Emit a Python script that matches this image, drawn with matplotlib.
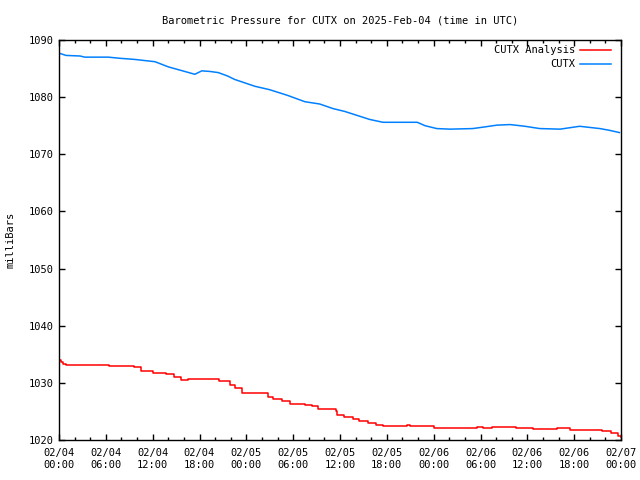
import matplotlib
matplotlib.use("Agg")
import matplotlib.pyplot as plt
from matplotlib.ticker import MultipleLocator

# hours since 2025-02-04 00:00 UTC
red_hours = [0.0, 0.26, 0.5, 0.9, 6.3, 6.4, 9.5, 9.6, 10.4, 10.5, 11.9, 12.0,
             13.6, 13.7, 14.6, 14.7, 15.5, 15.6, 16.4, 16.5, 20.4, 20.5, 21.5,
             21.9, 22.5, 23.4, 26.4, 26.8, 27.4, 28.6, 29.6, 31.5, 32.4, 33.2,
             35.5, 35.6, 36.5, 37.7, 38.4, 39.6, 40.6, 41.5, 44.5, 44.6, 45.0,
             47.9, 48.0, 53.4, 53.5, 54.3, 55.5, 58.4, 58.6, 60.7, 63.8, 65.5,
             69.6, 70.7, 71.6, 72.0]
red_mb = [1034.0, 1033.6, 1033.3, 1033.1, 1033.1, 1032.95, 1032.95, 1032.8,
          1032.8, 1032.1, 1032.1, 1031.8, 1031.8, 1031.5, 1031.5, 1031.0,
          1031.0, 1030.5, 1030.5, 1030.6, 1030.6, 1030.3, 1030.4, 1029.7,
          1029.1, 1028.3, 1028.2, 1027.5, 1027.2, 1026.9, 1026.3, 1026.1,
          1025.9, 1025.4, 1025.0, 1024.3, 1024.1, 1023.6, 1023.3, 1022.9,
          1022.6, 1022.4, 1022.4, 1022.6, 1022.4, 1022.4, 1022.1, 1022.1,
          1022.3, 1022.1, 1022.2, 1022.2, 1022.1, 1021.9, 1022.1, 1021.7,
          1021.5, 1021.3, 1020.7, 1020.5]

blue_hours = [0.0, 0.9, 2.7, 3.3, 6.3, 7.8, 9.7, 12.3, 14.0, 16.1, 17.4, 18.3,
              19.3, 20.4, 21.6, 22.5, 25.1, 27.0, 29.3, 31.5, 33.4, 35.1, 36.6,
              38.2, 39.8, 41.5, 45.9, 46.9, 48.4, 50.1, 53.0, 54.6, 56.1, 57.8,
              59.7, 61.6, 64.2, 66.7, 69.3, 70.5, 71.8]
blue_mb = [1087.7, 1087.3, 1087.2, 1087.0, 1087.0, 1086.8, 1086.6, 1086.2,
           1085.3, 1084.5, 1084.0, 1084.6, 1084.5, 1084.3, 1083.7, 1083.1,
           1081.9, 1081.3, 1080.3, 1079.2, 1078.8, 1078.0, 1077.5, 1076.8,
           1076.1, 1075.6, 1075.6, 1075.0, 1074.5, 1074.4, 1074.5, 1074.8,
           1075.1, 1075.2, 1074.9, 1074.5, 1074.4, 1074.9, 1074.5, 1074.2,
           1073.8]

tick_hours = list(range(0, 73, 6))
tick_labels = ["02/04\n00:00", "02/04\n06:00", "02/04\n12:00", "02/04\n18:00",
               "02/05\n00:00", "02/05\n06:00", "02/05\n12:00", "02/05\n18:00",
               "02/06\n00:00", "02/06\n06:00", "02/06\n12:00", "02/06\n18:00",
               "02/07\n00:00"]

plt.rcParams['font.family'] = ['DejaVu Sans Mono']
plt.rcParams['font.size'] = 7.5

fig = plt.figure(figsize=(6.4, 4.8), dpi=100)
ax = fig.add_axes([59 / 640, 40 / 480, 562 / 640, 400 / 480])

red = '#ff0000'
blue = '#0080ff'
ax.plot(red_hours, red_mb, color=red, lw=1.1, drawstyle='steps-post')
ax.plot(blue_hours, blue_mb, color=blue, lw=1.1)

ax.set_xlim(0, 72)
ax.set_ylim(1020, 1090)
ax.set_xticks(tick_hours)
ax.set_xticklabels(tick_labels)
ax.xaxis.set_minor_locator(MultipleLocator(2))
ax.yaxis.set_major_locator(MultipleLocator(10))
ax.tick_params(which='both', direction='in', top=True, right=True, color='black')
ax.tick_params(which='major', length=4.5, width=1, pad=4)
ax.tick_params(which='minor', length=2, width=1)
ax.tick_params(axis='x', pad=6)
for s in ax.spines.values():
    s.set_linewidth(1)

ax.set_title("Barometric Pressure for CUTX on 2025-Feb-04 (time in UTC)",
             fontsize=7.5, pad=12)
ax.set_ylabel("milliBars", labelpad=9)

# legend, gnuplot style: right-aligned text, sample line to the right
entries = [("CUTX Analysis", red), ("CUTX", blue)]
for i, (name, col) in enumerate(entries):
    yy = 0.976 - i * 0.035
    ax.text(0.918, yy, name, transform=ax.transAxes, ha='right', va='center')
    ax.plot([0.927, 0.982], [yy, yy], transform=ax.transAxes, color=col, lw=1.1)

fig.savefig("out.png", dpi=100)
